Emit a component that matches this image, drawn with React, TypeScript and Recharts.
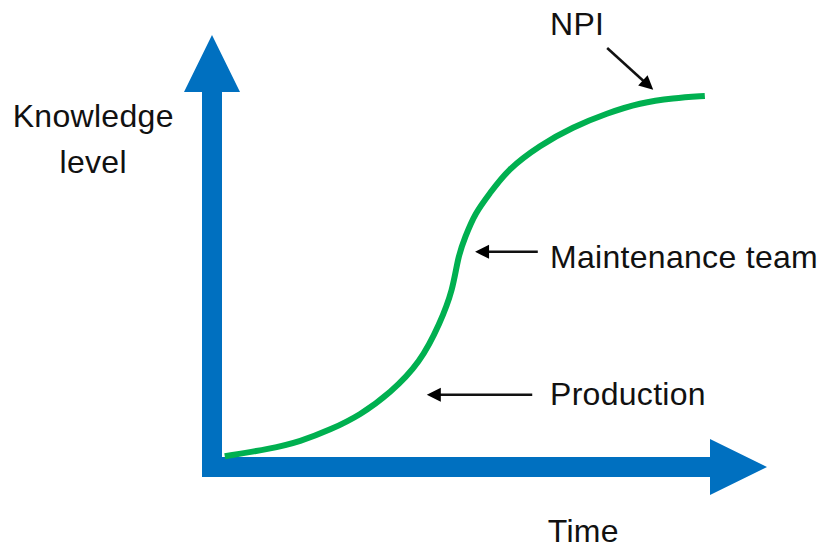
import React from 'react'
import { LineChart, Line, XAxis, YAxis, ReferenceLine, ReferenceDot } from 'recharts'

// S-curve (time 0..100, knowledge 0..100)
const timeValues = [2.3, 10.5, 15.9, 21.3, 26.7, 32.1, 37.5, 41.1, 43.4, 44.3, 45.6, 47.4, 50.1, 53.2, 59.1, 65.0, 71.2, 77.1, 83.1, 88.8]
const knowledgeValues = [2.5, 4.2, 5.9, 8.6, 12.0, 17.1, 24.1, 33.3, 41.0, 48.6, 53.2, 58.8, 63.4, 68.8, 74.5, 78.7, 81.9, 84.3, 85.4, 85.9]

const curveData = timeValues.map((t, i) => ({ t, k: knowledgeValues[i] }))

// callouts: label text, label anchor, arrow start and arrow tip (data units)
const calloutLabels = ['NPI', 'Maintenance team', 'Production']
const calloutLabelX = [60.9, 60.9, 60.9]
const calloutLabelY = [100, 46.1, 14.4]
const arrowFrom = [{ x: 71.2, y: 97.0 }, { x: 58.7, y: 49.8 }, { x: 57.7, y: 16.7 }]
const arrowTo = [{ x: 79.5, y: 87.3 }, { x: 47.4, y: 49.8 }, { x: 38.7, y: 16.7 }]

const yTitle = ['Knowledge', 'level']
const xTitle = 'Time'

const BLUE = '#0070C0'
const GREEN = '#00B050'
const FONT = '"Liberation Sans", Arial, sans-serif'

const unit = (p: any) => {
  const dx = p.x2 - p.x1
  const dy = p.y2 - p.y1
  const len = Math.hypot(dx, dy) || 1
  return { ux: dx / len, uy: dy / len, nx: -dy / len, ny: dx / len }
}

const AxisArrow = (p: any) => {
  const { ux, uy, nx, ny } = unit(p)
  const hw = 10
  const headLen = 57
  const headHalf = 28
  const sx = p.x1 - ux * hw
  const sy = p.y1 - uy * hw
  const bx = p.x2 - ux * headLen
  const by = p.y2 - uy * headLen
  const pts = [
    [sx + nx * hw, sy + ny * hw],
    [bx + nx * hw, by + ny * hw],
    [bx + nx * headHalf, by + ny * headHalf],
    [p.x2, p.y2],
    [bx - nx * headHalf, by - ny * headHalf],
    [bx - nx * hw, by - ny * hw],
    [sx - nx * hw, sy - ny * hw],
  ]
  return <polygon points={pts.map((q) => q.join(',')).join(' ')} fill={BLUE} />
}

const PointerArrow = (p: any) => {
  const { ux, uy, nx, ny } = unit(p)
  const headLen = 14
  const headHalf = 7
  const bx = p.x2 - ux * headLen
  const by = p.y2 - uy * headLen
  return (
    <g>
      <line x1={p.x1} y1={p.y1} x2={bx + ux * 2} y2={by + uy * 2} stroke="#111" strokeWidth={2.5} />
      <polygon
        points={`${p.x2},${p.y2} ${bx + nx * headHalf},${by + ny * headHalf} ${bx - nx * headHalf},${by - ny * headHalf}`}
        fill="#000"
      />
    </g>
  )
}

const textLabel = (lines: string[], anchor: 'start' | 'middle') => (p: any) => (
  <text x={p.cx} y={p.cy} fontFamily={FONT} fontSize={32} letterSpacing={0.3} fill="#111" textAnchor={anchor}>
    {lines.map((l, i) => (
      <tspan key={i} x={p.cx} dy={i === 0 ? 0 : 46}>
        {l}
      </tspan>
    ))}
  </text>
)

export default function App() {
  return (
    <div style={{ position: 'absolute', left: 0, top: 0, width: 820, height: 549, background: '#fff' }}>
      <LineChart width={820} height={549} data={curveData} margin={{ top: 35, right: 53, bottom: 82, left: 212 }}>
        <XAxis type="number" dataKey="t" domain={[0, 100]} hide />
        <YAxis type="number" domain={[0, 100]} hide />
        <ReferenceLine segment={[{ x: 0, y: 0 }, { x: 0, y: 100 }]} shape={AxisArrow} ifOverflow="visible" />
        <ReferenceLine segment={[{ x: 0, y: 0 }, { x: 100, y: 0 }]} shape={AxisArrow} ifOverflow="visible" />
        <Line
          type="basis"
          dataKey="k"
          stroke={GREEN}
          strokeWidth={6}
          dot={false}
          activeDot={false}
          isAnimationActive={false}
        />
        {calloutLabels.map((_, i) => (
          <ReferenceLine key={'a' + i} segment={[arrowFrom[i], arrowTo[i]]} shape={PointerArrow} ifOverflow="visible" />
        ))}
        {calloutLabels.map((txt, i) => (
          <ReferenceDot
            key={'l' + i}
            x={calloutLabelX[i]}
            y={calloutLabelY[i]}
            r={0}
            ifOverflow="visible"
            shape={textLabel([txt], 'start')}
          />
        ))}
        <ReferenceDot x={-21.4} y={78.7} r={0} ifOverflow="visible" shape={textLabel(yTitle, 'middle')} />
        <ReferenceDot x={60.5} y={-17.3} r={0} ifOverflow="visible" shape={textLabel([xTitle], 'start')} />
      </LineChart>
    </div>
  )
}
